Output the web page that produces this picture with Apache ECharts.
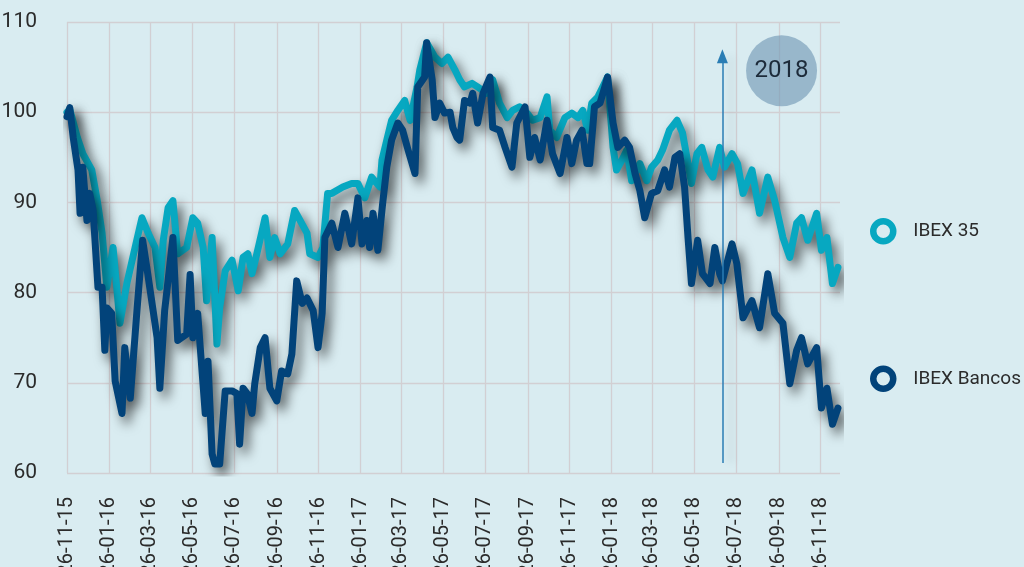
<!DOCTYPE html>
<html>
<head>
<meta charset="utf-8">
<script src="https://cdn.jsdelivr.net/npm/echarts@6/dist/echarts.min.js"></script>
<style>
html,body{margin:0;padding:0;background:#d9ecf1;}
#chart{width:1024px;height:567px;}
</style>
</head>
<body>
<div id="chart"></div>
<script>
// Calendar: one category per day, starting 26-11-15 and ending 24-12-18
var startDate = '2015-11-26';
var dayCount = 1125;
var yTicks = [60, 70, 80, 90, 100, 110];
var seriesNames = ['IBEX 35', 'IBEX Bancos'];
var annotationYear = '2018';

// IBEX 35 : day offset from 26-11-15, value
var ibexDays = [0,4,15,23,36,44,51,58,67,77,87,99,109,118,128,135,140,147,154,161,174,183,190,198,203,211,218,222,230,240,249,256,263,269,276,283,288,295,302,310,321,331,339,349,353,365,372,379,385,401,414,423,433,443,455,458,465,472,481,491,499,509,513,523,535,545,554,564,571,578,589,597,610,619,629,640,648,658,669,677,688,698,702,712,724,734,743,750,757,763,772,779,786,794,799,807,814,821,833,843,850,859,866,876,887,895,903,908,916,923,932,939,949,956,967,975,983,996,1007,1019,1029,1041,1051,1061,1068,1077,1090,1097,1105,1113,1121];
var ibexValues = [100,100.3,97.2,95.4,93.6,90.2,86.6,80.6,85,76.6,81,85,88.3,86.6,85,80.6,85.8,89.4,90.2,84.3,85,88.3,87.7,85,79.1,86.1,74.3,78.3,82.4,83.6,80.2,83.9,84.3,82.1,84.3,86.6,88.3,83.9,86.1,84.3,85.4,89.1,88,86.6,84.3,83.9,85,91,91,91.7,92.1,92.1,90.5,92.8,91.7,94.7,96.9,99.1,100.2,101.3,99.1,102.8,104.7,107.7,106.1,105.4,106.1,104.7,103.6,102.8,103.2,102.8,102.1,103.6,101,99.4,100.2,100.6,99.9,99.1,99.4,101.7,98,97.2,99.4,99.9,99.4,100.2,98,101,101.7,102.8,103.9,96.1,93.6,94.7,95.8,92.4,94.3,92.4,93.9,94.7,95.8,98,99.1,97.7,94.3,92.1,95.4,96.1,93.6,92.8,96.1,93.9,95.4,94.3,91,93.6,88.8,92.8,90.2,86.1,83.9,87.7,88.3,85.8,88.8,84.7,86.1,81,82.8];

// IBEX Bancos : day offset from 26-11-15, value
var bancosDays = [0,4,9,16,19,23,29,33,38,45,51,55,58,65,70,80,84,92,102,110,116,131,135,142,154,161,174,179,183,190,201,205,211,215,222,230,240,247,251,256,262,269,273,281,288,295,305,312,321,327,334,342,349,358,365,371,375,385,394,404,414,423,429,436,440,445,452,459,465,472,481,488,496,506,510,520,523,531,535,542,549,557,561,567,571,578,586,590,597,605,615,619,629,637,647,654,666,673,680,688,698,706,717,727,734,741,749,756,760,767,775,782,786,794,801,811,818,826,833,840,850,859,869,876,884,891,898,903,908,917,924,935,942,949,953,967,974,983,996,1007,1019,1029,1041,1051,1061,1068,1077,1090,1097,1105,1113,1121];
var bancosValues = [99.5,100.5,97.2,93.6,88.8,93.9,88,91,89.1,80.6,80.6,73.6,78.3,77.7,70.2,66.6,73.9,68.3,78.3,85.8,82.8,75,69.4,78,86.1,74.7,75.4,82,75,77.7,66.6,72.4,62.1,61,61,69.1,69.1,68.8,63.2,69.4,68.8,66.6,69.9,73.9,75,69.4,68,71.3,71,73.2,81.3,78.8,79.4,78,73.9,77.7,86.1,87.7,85,88.8,85.4,90.5,85.4,88,85,88.8,84.7,89.9,93.9,96.9,98.8,98,95.8,93.2,102.8,103.9,107.7,103.6,99.4,101,99.9,100,98.3,97.2,96.9,101.3,101,102.1,98.8,102.1,103.9,98.3,98,96.1,93.9,98.8,100.6,95,97.2,94.7,99.1,95.4,93.2,97.2,94.3,96.9,98,94.3,94.3,100.6,101,102.8,103.9,98.8,96.1,96.9,96.1,93.2,91.3,88.3,91,91.3,93.6,91.7,95,95.4,91.7,86.1,81,85.8,82.1,81,85,82.1,81.3,85.4,83.2,77.2,79.1,76.1,82.1,77.7,76.6,69.9,73.6,75,72.1,73.9,67.2,69.4,65.4,67.2];

// Annotation: arrow at day 953, bubble at day 1039
var arrowDay = 953, arrowFrom = 61.1, arrowTo = 106.2;
var bubbleDay = 1039, bubbleValue = 104.6;

var teal = '#07a8c1';
var navy = '#02437a';
var bg = '#d9ecf1';
var font = "'Roboto', 'Liberation Sans', sans-serif";

function pad(n){ return (n < 10 ? '0' : '') + n; }
var categories = [];
var base = Date.UTC(2015, 10, 26);
for (var i = 0; i < dayCount; i++) {
  var d = new Date(base + i * 86400000);
  categories.push(pad(d.getUTCDate()) + '-' + pad(d.getUTCMonth() + 1) + '-' + String(d.getUTCFullYear()).slice(2));
}
function isMark(idx, val) {
  var p = val.split('-');
  return p[0] === '26' && (parseInt(p[1], 10) % 2 === 1);
}
function zip(a, b) { return a.map(function (x, i) { return [x, b[i]]; }); }

var chart = echarts.init(document.getElementById('chart'), null, {renderer: 'canvas'});
var shadow = {shadowColor: 'rgba(0,0,0,0.62)', shadowBlur: 12, shadowOffsetX: 5, shadowOffsetY: 7};

chart.setOption({
  backgroundColor: bg,
  animation: false,
  grid: {left: 67, right: 184, top: 22, bottom: 94, containLabel: false, outerBoundsMode: 'none'},
  legend: {
    orient: 'vertical',
    left: 870,
    top: 218,
    padding: 0,
    itemGap: 121,
    itemWidth: 50,
    itemHeight: 20,
    icon: 'circle',
    textStyle: {fontFamily: font, fontSize: 19, color: '#2b2b2b'},
    data: [
      {name: seriesNames[0], itemStyle: {color: bg, borderColor: teal, borderWidth: 6.5}},
      {name: seriesNames[1], itemStyle: {color: bg, borderColor: navy, borderWidth: 6.5}}
    ]
  },
  xAxis: {
    type: 'category',
    data: categories,
    boundaryGap: false,
    axisLine: {show: false},
    axisTick: {show: false},
    axisLabel: {
      interval: isMark,
      rotate: 90,
      margin: 24,
      fontFamily: font,
      fontSize: 20,
      color: '#2b2b2b'
    },
    splitLine: {show: true, interval: isMark, lineStyle: {color: '#d2cfd3', width: 1.3}}
  },
  yAxis: {
    type: 'value',
    min: yTicks[0],
    max: yTicks[yTicks.length - 1],
    interval: 10,
    axisLine: {show: false},
    axisTick: {show: false},
    axisLabel: {margin: 30, fontFamily: font, fontSize: 21, color: '#2b2b2b'},
    splitLine: {show: true, lineStyle: {color: '#d2cfd3', width: 1.3}}
  },
  series: [
    {
      name: seriesNames[0],
      type: 'line',
      data: zip(ibexDays, ibexValues),
      showSymbol: false,
      symbol: 'none',
      color: teal,
      lineStyle: Object.assign({color: teal, width: 7, cap: 'round', join: 'round'}, shadow),
      z: 2
    },
    {
      name: seriesNames[1],
      type: 'line',
      data: zip(bancosDays, bancosValues),
      showSymbol: false,
      symbol: 'none',
      color: navy,
      lineStyle: Object.assign({color: navy, width: 7, cap: 'round', join: 'round'}, shadow),
      z: 3,
      markLine: {
        silent: true,
        symbol: ['none', 'triangle'],
        symbolSize: [11, 14],
        label: {show: false},
        lineStyle: {color: '#2a7db4', width: 1.5, type: 'solid', shadowColor: 'rgba(0,0,0,0.22)', shadowBlur: 8, shadowOffsetX: 8},
        data: [[{coord: [arrowDay, arrowFrom]}, {coord: [arrowDay, arrowTo]}]]
      },
      markPoint: {
        silent: true,
        symbol: 'circle',
        symbolSize: 71,
        itemStyle: {color: 'rgba(109,149,179,0.6)'},
        label: {show: true, formatter: annotationYear, fontFamily: font, fontSize: 24, color: '#1d2b3a'},
        data: [{coord: [bubbleDay, bubbleValue]}]
      }
    }
  ]
});
</script>
</body>
</html>
